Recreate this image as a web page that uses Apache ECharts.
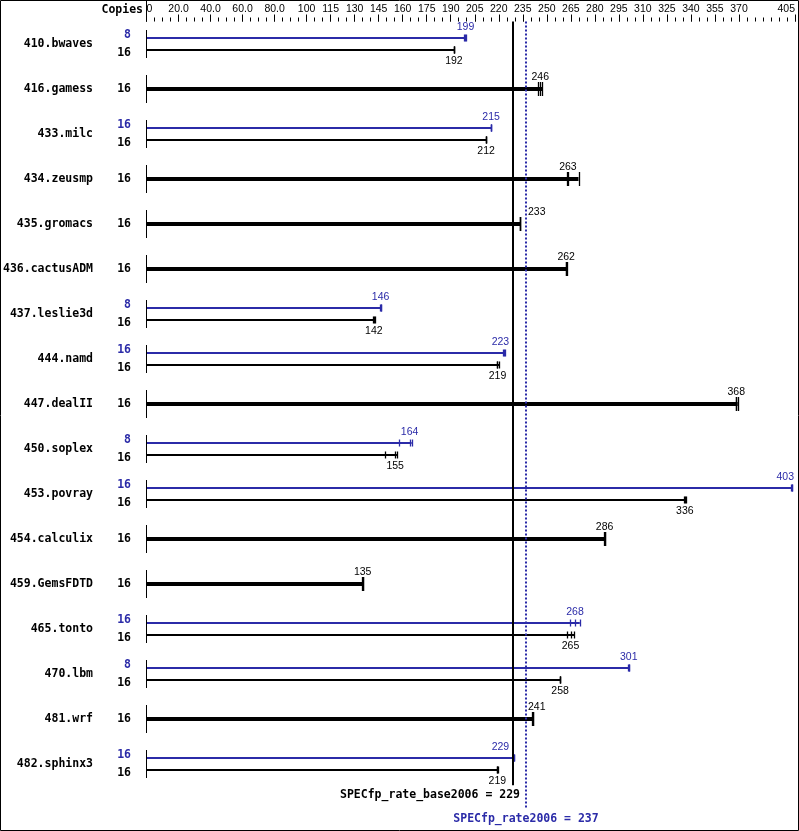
<!DOCTYPE html>
<html>
<head>
<meta charset="utf-8">
<script src="https://cdn.jsdelivr.net/npm/echarts@6/dist/echarts.min.js"></script>
<style>
  html, body { margin: 0; padding: 0; background: #fff; }
  #chart { width: 799px; height: 831px; }
</style>
</head>
<body>
<div id="chart"></div>
<script>
// benchmarks, top to bottom
const names = ['410.bwaves', '416.gamess', '433.milc', '434.zeusmp', '435.gromacs', '436.cactusADM',
  '437.leslie3d', '444.namd', '447.dealII', '450.soplex', '453.povray', '454.calculix',
  '459.GemsFDTD', '465.tonto', '470.lbm', '481.wrf', '482.sphinx3']
const baseCopies = [16, 16, 16, 16, 16, 16, 16, 16, 16, 16, 16, 16, 16, 16, 16, 16, 16]
const peakCopies = [8, null, 16, null, null, null, 8, 16, null, 8, 16, null, null, 16, 8, null, 16]
const baseRatio = [192, 246, 212, 263, 233, 262, 142, 219, 368, 155, 336, 286, 135, 265, 258, 241, 219]
const peakRatio = [199, null, 215, null, null, null, 146, 223, null, 164, 403, null, null, 268, 301, null, 229]
// individual runs (ticks at the end of each bar)
const baseRuns = [
  [191.8, 192.0, 192.3], [244.6, 245.9, 247.1], [211.8, 212.1, 212.3], [262.6, 263.2, 269.8],
  [233.0, 233.2, 233.5], [261.8, 262.1, 262.6], [141.7, 142.0, 142.4], [218.8, 219.2, 220.4],
  [367.9, 368.3, 369.2], [149.2, 155.3, 156.4], [335.8, 336.2, 336.9], [285.8, 286.1, 286.4],
  [134.6, 135.0, 135.4], [262.5, 264.8, 267.0], [258.1, 258.3, 258.4], [240.9, 241.2, 241.5],
  [218.8, 219.1, 219.3]
]
const peakRuns = [
  [198.4, 199.2, 199.6], null, [215.0, 215.2, 215.4], null, null, null, [145.9, 146.2, 146.6],
  [222.7, 223.1, 224.1], null, [157.6, 164.3, 165.6], [402.6, 403.1, 403.4], null, null,
  [264.4, 267.6, 270.6], [301.0, 301.2, 301.3], null, [229.1, 229.3, 229.6]
]
const baseScore = 229
const peakScore = 237
const tickValues = [0, 20, 40, 60, 80, 100, 115, 130, 145, 160, 175, 190, 205, 220, 235, 250,
  265, 280, 295, 310, 325, 340, 355, 370, 405]
const tickLabels = ['0', '20.0', '40.0', '60.0', '80.0', '100', '115', '130', '145', '160', '175',
  '190', '205', '220', '235', '250', '265', '280', '295', '310', '325', '340', '355', '370', '405']

const BLUE = '#2b2ba8'
const MONO_BOLD = 'bold 11.5px "DejaVu Sans Mono"'
const NUM_FONT = '10.5px "Liberation Sans"'

let minorTicks = []
for (let v = 0; v <= 405; v += 5) minorTicks.push(v)

function median (arr) {
  let s = arr.slice().sort((a, b) => a - b)
  return s[Math.floor(s.length / 2)]
}

// kind: 0 = single base bar, 1 = base bar of a pair, 2 = peak bar of a pair
let barData = []
names.forEach((n, i) => {
  if (peakRuns[i] == null) {
    barData.push([median(baseRuns[i]), i, i, 0])
  } else {
    barData.push([median(peakRuns[i]), i - 0.133, i, 2])
    barData.push([median(baseRuns[i]), i + 0.133, i, 1])
  }
})

function renderBar (params, api) {
  const med = api.value(0)
  const y = api.value(1)
  const row = api.value(2)
  const kind = api.value(3)
  const runs = kind === 2 ? peakRuns[row] : baseRuns[row]
  const color = kind === 2 ? BLUE : '#000'
  const p0 = api.coord([0, y])
  const py = p0[1]
  const pEnd = api.coord([Math.max(...runs), y])
  const thick = kind === 0
  const h = thick ? 7 : 3.5
  let children = [{
    type: 'line',
    shape: { x1: p0[0], y1: py, x2: pEnd[0], y2: py },
    style: { stroke: color, lineWidth: thick ? 4 : 2 }
  }]
  runs.forEach(r => {
    let px = Math.round(api.coord([r, y])[0]) + 0.5
    children.push({
      type: 'line',
      shape: { x1: px, y1: py - h, x2: px, y2: py + h },
      style: { stroke: color, lineWidth: 1.3 }
    })
  })

  // value label
  const val = kind === 2 ? peakRatio[row] : baseRatio[row]
  let cx = api.coord([med, y])[0]
  let align = 'center'
  const bx = api.coord([baseScore, 0])[0]
  const pkx = api.coord([peakScore, 0])[0]
  const halfW = 9
  if (cx + halfW > bx - 3 && cx - halfW < pkx + 2) {
    if (val <= baseScore) { align = 'right'; cx = bx - 4 } else { align = 'left'; cx = pkx + 2 }
  }
  if (cx + halfW > 794 && align === 'center') { align = 'right'; cx = 794 }
  children.push({
    type: 'text',
    style: {
      text: String(val), x: cx, y: py + (kind === 1 ? 11 : (thick ? -12 : -11)),
      align: align, verticalAlign: 'middle', fill: color, font: NUM_FONT
    }
  })

  // left side: name, copies, row bracket
  const rowC = api.coord([0, row])
  const copies = kind === 2 ? peakCopies[row] : baseCopies[row]
  children.push({
    type: 'text',
    style: {
      text: String(copies), x: rowC[0] - 15.5, y: rowC[1] + (kind === 2 ? -9 : kind === 1 ? 9 : 0),
      align: 'right', verticalAlign: 'middle', fill: color, font: MONO_BOLD
    }
  })
  if (kind !== 2) {
    children.push({
      type: 'text',
      style: {
        text: names[row], x: rowC[0] - 53.5, y: rowC[1],
        align: 'right', verticalAlign: 'middle', fill: '#000', font: MONO_BOLD
      }
    })
    children.push({
      type: 'line',
      shape: { x1: 146.5, y1: rowC[1] - 14, x2: 146.5, y2: rowC[1] + 14 },
      style: { stroke: '#000', lineWidth: 1 }
    })
  }
  return { type: 'group', children: children }
}

function renderScore (params, api) {
  const v = api.value(0)
  const isPeak = api.value(1) === 1
  const top = api.coord([v, -0.5])
  const bottom = api.coord([v, isPeak ? 16.98 : 16.47])
  const x = Math.round(top[0])
  const color = isPeak ? BLUE : '#000'
  return {
    type: 'group',
    children: [
      {
        type: 'line',
        shape: { x1: x, y1: top[1], x2: x, y2: bottom[1] },
        style: { stroke: color, lineWidth: 2, lineDash: isPeak ? [2, 2] : null }
      },
      {
        type: 'text',
        style: {
          text: (isPeak ? 'SPECfp_rate2006 = ' : 'SPECfp_rate_base2006 = ') + v,
          x: isPeak ? x : x + 7,
          y: api.coord([v, isPeak ? 17.23 : 16.69])[1],
          align: isPeak ? 'center' : 'right', verticalAlign: 'middle',
          fill: color, font: MONO_BOLD
        }
      }
    ]
  }
}

let chart = echarts.init(document.getElementById('chart'))
chart.setOption({
  animation: false,
  grid: { left: 146.5, top: 21.5, width: 648.5, height: 45 * 17.8 },
  xAxis: [
    {
      type: 'value', position: 'top', min: 0, max: 405,
      axisLine: { show: false, onZero: false },
      splitLine: { show: false },
      axisTick: { show: true, length: 4, customValues: minorTicks, lineStyle: { color: '#000' } },
      axisLabel: { show: false }
    },
    {
      type: 'value', position: 'top', min: 0, max: 405,
      axisLine: { show: false, onZero: false },
      splitLine: { show: false },
      axisTick: { show: true, length: 7, customValues: tickValues, lineStyle: { color: '#000' } },
      axisLabel: {
        customValues: tickValues,
        margin: 7,
        color: '#000',
        fontFamily: 'Liberation Sans',
        fontSize: 10.5,
        alignMinLabel: 'left',
        alignMaxLabel: 'right',
        formatter: v => tickLabels[tickValues.indexOf(v)]
      }
    }
  ],
  yAxis: { type: 'value', inverse: true, min: -0.5, max: 17.3, show: false },
  graphic: [
    { type: 'rect', shape: { x: 0.5, y: 0.5, width: 798, height: 830 }, style: { fill: 'none', stroke: '#000', lineWidth: 1 } },
    { type: 'text', style: { text: 'Copies', x: 143, y: 10.5, align: 'right', verticalAlign: 'middle', font: MONO_BOLD, fill: '#000' } },
    { type: 'line', shape: { x1: 146.5, y1: 0, x2: 146.5, y2: 21.5 }, style: { stroke: '#000', lineWidth: 1 } }
  ],
  series: [
    {
      type: 'custom',
      renderItem: renderBar,
      encode: { x: 0, y: 1 },
      data: barData
    },
    {
      type: 'custom',
      renderItem: renderScore,
      encode: { x: 0 },
      data: [[baseScore, 0], [peakScore, 1]]
    }
  ]
})

window.addEventListener('resize', () => chart.resize())
</script>
</body>
</html>
